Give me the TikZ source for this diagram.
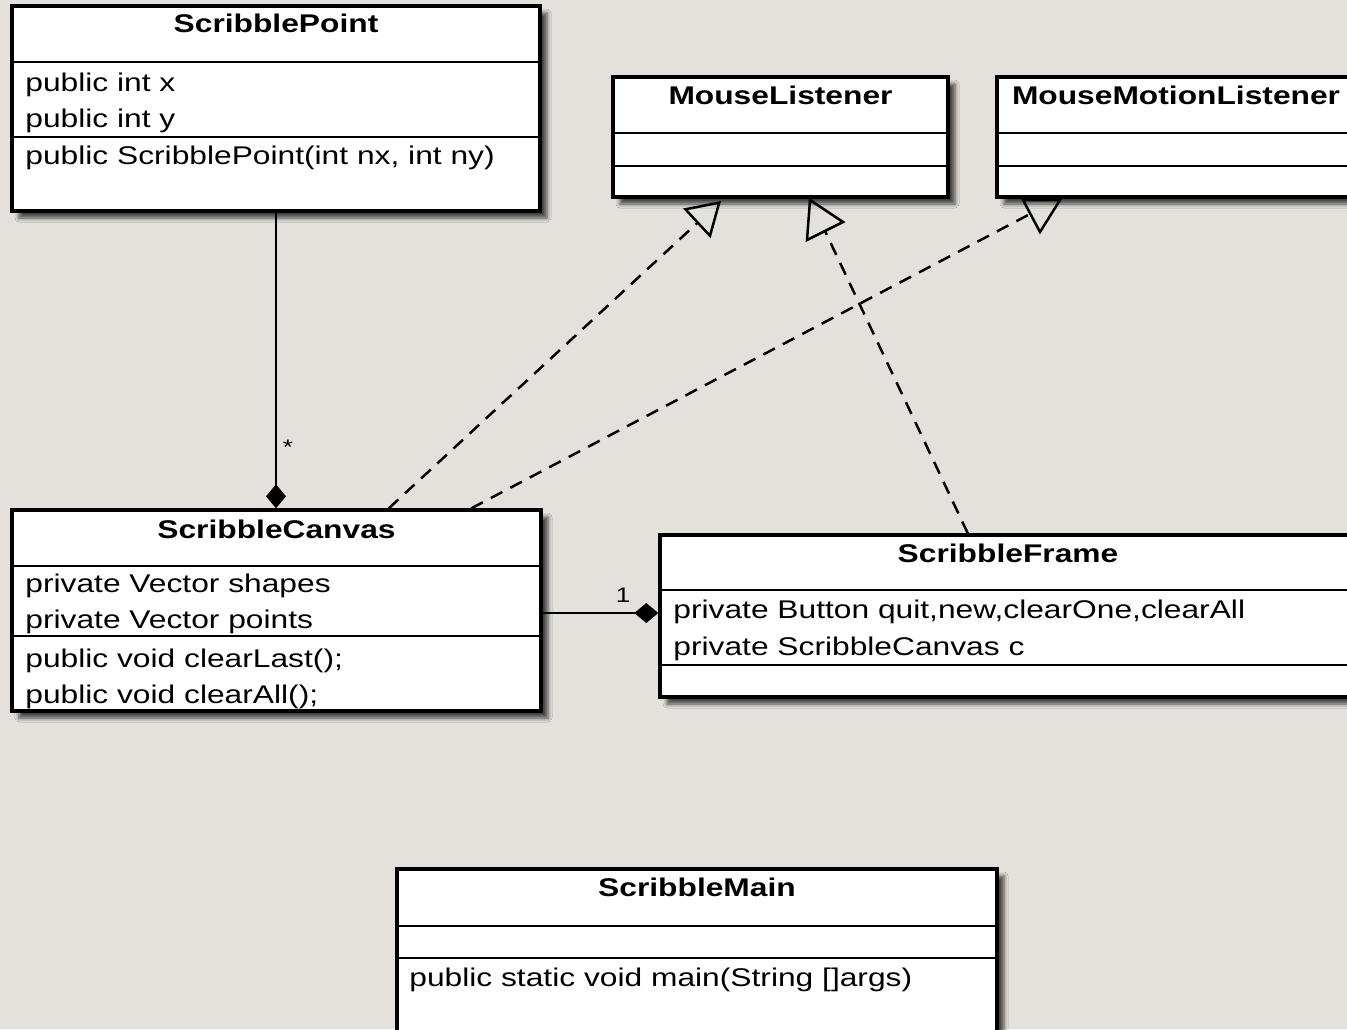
\documentclass[tikz,border=0pt]{standalone}
\usepackage{fontspec}
\setmainfont{Liberation Sans}[FakeStretch=1.24]
\usepackage{tikz}
\usetikzlibrary{arrows.meta, calc, shadows.blur}
\definecolor{paper}{HTML}{E4E1DC}

\begin{document}
\begin{tikzpicture}[x=0.5pt, y=-0.5pt,
    cls/.style={draw=black, fill=white, line width=1.7pt, inner sep=0pt,
        blur shadow={shadow xshift=3.5pt, shadow yshift=-3.5pt, shadow blur radius=2pt, shadow opacity=70}},
    ttl/.style={anchor=base, inner sep=0pt, font=\fontsize{12.8}{15}\selectfont\bfseries},
    txt/.style={anchor=base west, inner sep=0pt, font=\fontsize{12.8}{15}\selectfont},
    lbl/.style={inner sep=0pt, font=\fontsize{10.5}{12}\selectfont},
    sep/.style={line width=1.2pt},
    comp/.style={line width=1.25pt, -{Diamond[fill=black, length=12pt, width=10pt]}},
    real/.style={line width=1.25pt, dash pattern=on 6.5pt off 4.5pt},
    tri/.style={line width=1.25pt, line join=miter}]
    \useasboundingbox (0,0) rectangle (1347,1029);
    \clip (0,0) rectangle (1347,1029);
    \fill[paper] (0,0) rectangle (1347,1029);

    % class boxes
    \node[cls, minimum width=264pt, minimum height=102.5pt] (point) at (276,108.5) {};
    \node[cls, minimum width=167.5pt, minimum height=60pt] (ml) at (780.5,137) {};
    \node[cls, minimum width=179pt, minimum height=60pt] (mml) at (1176,137) {};
    \node[cls, minimum width=264.5pt, minimum height=100.5pt] (canvas) at (276.5,610.5) {};
    \node[cls, minimum width=348pt, minimum height=81pt] (frame) at (1008,616) {};
    \node[cls, minimum width=300pt, minimum height=95.5pt] (main) at (697,964.5) {};

    % compartments
    \draw[sep] (point.west |- 0,62) -- (point.east |- 0,62);
    \draw[sep] (point.west |- 0,137) -- (point.east |- 0,137);
    \draw[sep] (ml.west |- 0,133) -- (ml.east |- 0,133);
    \draw[sep] (ml.west |- 0,166) -- (ml.east |- 0,166);
    \draw[sep] (mml.west |- 0,133) -- (mml.east |- 0,133);
    \draw[sep] (mml.west |- 0,166) -- (mml.east |- 0,166);
    \draw[sep] (canvas.west |- 0,566) -- (canvas.east |- 0,566);
    \draw[sep] (canvas.west |- 0,636) -- (canvas.east |- 0,636);
    \draw[sep] (frame.west |- 0,590) -- (frame.east |- 0,590);
    \draw[sep] (frame.west |- 0,665) -- (frame.east |- 0,665);
    \draw[sep] (main.west |- 0,926) -- (main.east |- 0,926);
    \draw[sep] (main.west |- 0,958) -- (main.east |- 0,958);

    % texts
    \node[ttl] (pointT) at (276,32) {ScribblePoint};
    \node[txt] (pointA1) at (25,91) {public int x};
    \node[txt] (pointA2) at (25,127) {public int y};
    \node[txt] (pointM1) at (25,164) {public ScribblePoint(int nx, int ny)};
    \node[ttl] (mlT) at (780.5,104) {MouseListener};
    \node[ttl] (mmlT) at (1176,104) {MouseMotionListener};
    \node[ttl] (canvasT) at (276.5,538) {ScribbleCanvas};
    \node[txt] (canvasA1) at (25,592) {private Vector shapes};
    \node[txt] (canvasA2) at (25,628) {private Vector points};
    \node[txt] (canvasM1) at (25,667) {public void clearLast();};
    \node[txt] (canvasM2) at (25,703) {public void clearAll();};
    \node[ttl] (frameT) at (1008,562) {ScribbleFrame};
    \node[txt] (frameA1) at (673,618) {private Button quit,new,clearOne,clearAll};
    \node[txt] (frameA2) at (673,655) {private ScribbleCanvas c};
    \node[ttl] (mainT) at (697,896) {ScribbleMain};
    \node[txt] (mainM1) at (409,986) {public static void main(String []args)};

    % associations
    \draw[comp] (point.south) -- (point.south |- canvas.north);
    \node[lbl] (mulStar) at (288,447) {*};
    \draw[comp] (canvas.east |- 0,613) -- (frame.west |- 0,613);
    \node[lbl] (mulOne) at (623,595) {1};

    % realizations
    \coordinate (tipA) at (721,201);
    \coordinate (tipB) at (825,231);
    \coordinate (tipC) at (1030,214);
    \draw[real, -{Triangle[open, length=16.5pt, width=20pt]}]
        ($(canvas.north west)!0.711!(canvas.north east)$) -- (tipA);
    \draw[real] ($(frame.north west)!0.4425!(frame.north east)$) -- (tipB);
    \draw[tri] (810,200) -- (843,222) -- (807,240) -- cycle;
    \draw[real] ($(canvas.north west)!0.866!(canvas.north east)$) -- (tipC);
    \draw[tri] (1023,200) -- (1060,200) -- (1040,232) -- cycle;
\end{tikzpicture}
\end{document}
